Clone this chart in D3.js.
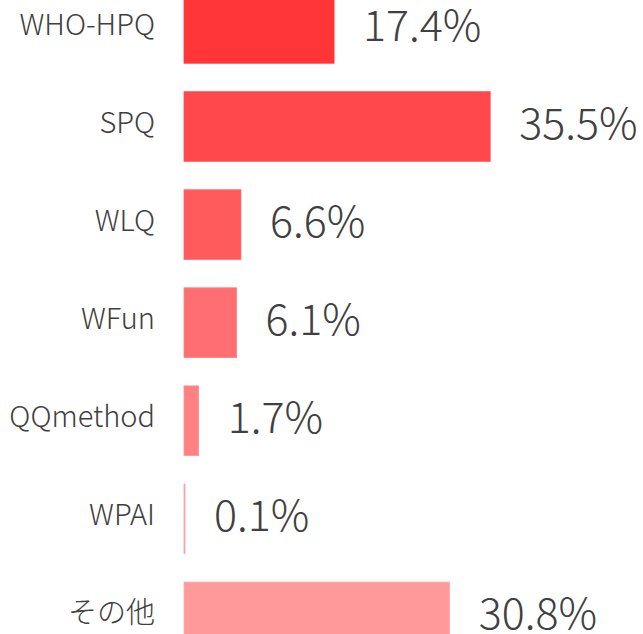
<!DOCTYPE html>
<html><head><meta charset="utf-8">
<script src="https://cdn.jsdelivr.net/npm/d3@7"></script>
<style>
html,body{margin:0;padding:0;background:#fff;overflow:hidden}
svg{display:block}
</style></head>
<body>
<svg id="chart" width="643" height="634"></svg>
<script>
const categories = ["WHO-HPQ","SPQ","WLQ","WFun","QQmethod","WPAI","その他"];
const values = [17.4, 35.5, 6.6, 6.1, 1.7, 0.1, 30.8];
const valueLabels = ["17.4%","35.5%","6.6%","6.1%","1.7%","0.1%","30.8%"];
const colors = ["#ff3538","#ff484b","#ff5b5d","#ff6e70","#ff8183","#ff9395","#ff999a"];

const svg = d3.select("#chart");
const x = d3.scaleLinear().domain([0, 40]).range([184, 529]);
const y = d3.scaleBand().domain(categories).range([-6.4, 651.7]).paddingInner(0.29).paddingOuter(0);

const data = categories.map((c, i) => ({c, v: values[i], label: valueLabels[i], color: colors[i]}));

svg.selectAll("rect.bar").data(data).join("rect")
  .attr("class","bar")
  .attr("x", x(0))
  .attr("y", d => y(d.c))
  .attr("width", d => Math.max(1, x(d.v) - x(0)))
  .attr("height", y.bandwidth())
  .attr("fill", d => d.color)
  .attr("stroke", d => d3.color(d.color).brighter(0.35))
  .attr("stroke-width", 0.8);

const font = "'Noto Sans CJK JP','Noto Sans',sans-serif";

svg.selectAll("text.cat").data(data).join("text")
  .attr("class","cat")
  .attr("x", 155)
  .attr("y", d => y(d.c) + y.bandwidth()/2 + 6.5)
  .attr("text-anchor","end")
  .attr("font-family", font)
  .attr("font-weight", 300)
  .attr("font-size", 29)
  .attr("fill","#404040")
  .text(d => d.c);

svg.selectAll("text.val").data(data).join("text")
  .attr("class","val")
  .attr("x", d => Math.max(x(d.v), x(0)+1) + 29)
  .attr("y", d => y(d.c) + y.bandwidth()/2 + 12.5)
  .attr("font-family", font)
  .attr("font-weight", 300)
  .attr("font-size", 43)
  .attr("fill","#404040")
  .text(d => d.label);
</script>
</body></html>
